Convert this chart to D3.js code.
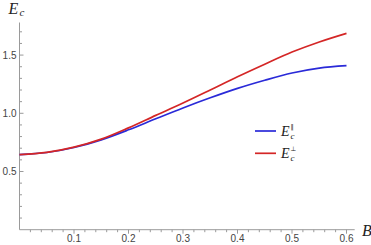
<!DOCTYPE html>
<html><head><meta charset="utf-8">
<script src="https://cdn.jsdelivr.net/npm/d3@7"></script>
<style>html,body{margin:0;padding:0;background:#fff;}svg{display:block;}</style>
</head><body>
<svg id="chart" width="371" height="245"></svg>
<script>
const B = [0, 0.05, 0.1, 0.15, 0.2, 0.25, 0.3, 0.35, 0.4, 0.45, 0.5, 0.55, 0.6];
const Epar = [0.645, 0.663, 0.706, 0.772, 0.858, 0.953, 1.046, 1.133, 1.214, 1.284, 1.346, 1.388, 1.409];
const Eperp = [0.645, 0.664, 0.709, 0.778, 0.875, 0.982, 1.088, 1.200, 1.314, 1.422, 1.526, 1.613, 1.687];
const xTicks = [0.1, 0.2, 0.3, 0.4, 0.5, 0.6];
const yTicks = [0.5, 1.0, 1.5];
const series = [
  {name: "par", sup: "\u2225", values: Epar, color: "#2a2ad8"},
  {name: "perp", sup: "\u22A5", values: Eperp, color: "#d42626"}
];

const svg = d3.select("#chart");
const x = d3.scaleLinear().domain([0, 0.6]).range([19.5, 346.5]);
const y = d3.scaleLinear().domain([0, 1.78]).range([229.7, 22.5]);
const axisColor = "#9a9a9a";
const labelColor = "#444";

svg.append("line").attr("x1", x(0)).attr("x2", x(0.615)).attr("y1", y(0)).attr("y2", y(0))
  .attr("stroke", axisColor).attr("stroke-width", 1);
svg.append("line").attr("x1", x(0)).attr("x2", x(0)).attr("y1", y(0)).attr("y2", y(1.78))
  .attr("stroke", axisColor).attr("stroke-width", 1);

const xMinor = d3.range(0.02, 0.6001, 0.02);
svg.selectAll(".xt").data(xMinor).enter().append("line")
  .attr("x1", d => x(d)).attr("x2", d => x(d))
  .attr("y1", y(0)).attr("y2", d => y(0) + (Math.abs(d*10 - Math.round(d*10)) < 1e-6 ? 4 : 2.5))
  .attr("stroke", axisColor).attr("stroke-width", 1);
svg.selectAll(".xl").data(xTicks).enter().append("text")
  .attr("x", d => x(d)).attr("y", 242)
  .attr("text-anchor", "middle").attr("font-family", "Liberation Sans, Arial, sans-serif")
  .attr("font-size", 10).attr("fill", labelColor).text(d => d3.format(".1f")(d));

const yMinor = d3.range(0.1, 1.7501, 0.1);
svg.selectAll(".yt").data(yMinor).enter().append("line")
  .attr("x1", x(0)).attr("x2", d => x(0) + (Math.abs(d*2 - Math.round(d*2)) < 1e-6 ? 4 : 2.5))
  .attr("y1", d => y(d)).attr("y2", d => y(d))
  .attr("stroke", axisColor).attr("stroke-width", 1);
svg.selectAll(".yl").data(yTicks).enter().append("text")
  .attr("x", 16.5).attr("y", d => y(d) + 3.5)
  .attr("text-anchor", "end").attr("font-family", "Liberation Sans, Arial, sans-serif")
  .attr("font-size", 10).attr("fill", labelColor).text(d => d3.format(".1f")(d));

const serif = "Liberation Serif, Times New Roman, serif";
svg.append("text").attr("x", 8.5).attr("y", 13.5)
  .attr("font-family", serif).attr("font-style", "italic")
  .attr("font-size", 16).attr("fill", "#222").text("E");
svg.append("text").attr("x", 19.5).attr("y", 15.5)
  .attr("font-family", serif).attr("font-style", "italic")
  .attr("font-size", 11).attr("fill", "#222").text("c");

svg.append("text").attr("x", 362).attr("y", 236)
  .attr("font-family", serif).attr("font-style", "italic")
  .attr("font-size", 16).attr("fill", "#222").text("B");

const line = d3.line().x((d, i) => x(B[i])).y(d => y(d)).curve(d3.curveCatmullRom.alpha(0.5));
series.forEach(s => {
  svg.append("path").datum(s.values).attr("d", line)
    .attr("fill", "none").attr("stroke", s.color).attr("stroke-width", 1.7);
});

series.forEach((s, i) => {
  const ly = 131 + i * 22.3;
  svg.append("line").attr("x1", 255).attr("x2", 276).attr("y1", ly).attr("y2", ly)
    .attr("stroke", s.color).attr("stroke-width", 1.7);
  svg.append("text").attr("x", 281).attr("y", ly + 4.5)
    .attr("font-family", serif).attr("font-style", "italic")
    .attr("font-size", 14).attr("fill", "#222").text("E");
  svg.append("text").attr("x", 290.5).attr("y", ly + 7.5)
    .attr("font-family", serif).attr("font-style", "italic")
    .attr("font-size", 9).attr("fill", "#222").text("c");
  svg.append("text").attr("x", 290.5).attr("y", ly - 2.5)
    .attr("font-family", "DejaVu Sans, sans-serif")
    .attr("font-size", 6.5).attr("fill", "#222").text(s.sup);
});
</script>
</body></html>
